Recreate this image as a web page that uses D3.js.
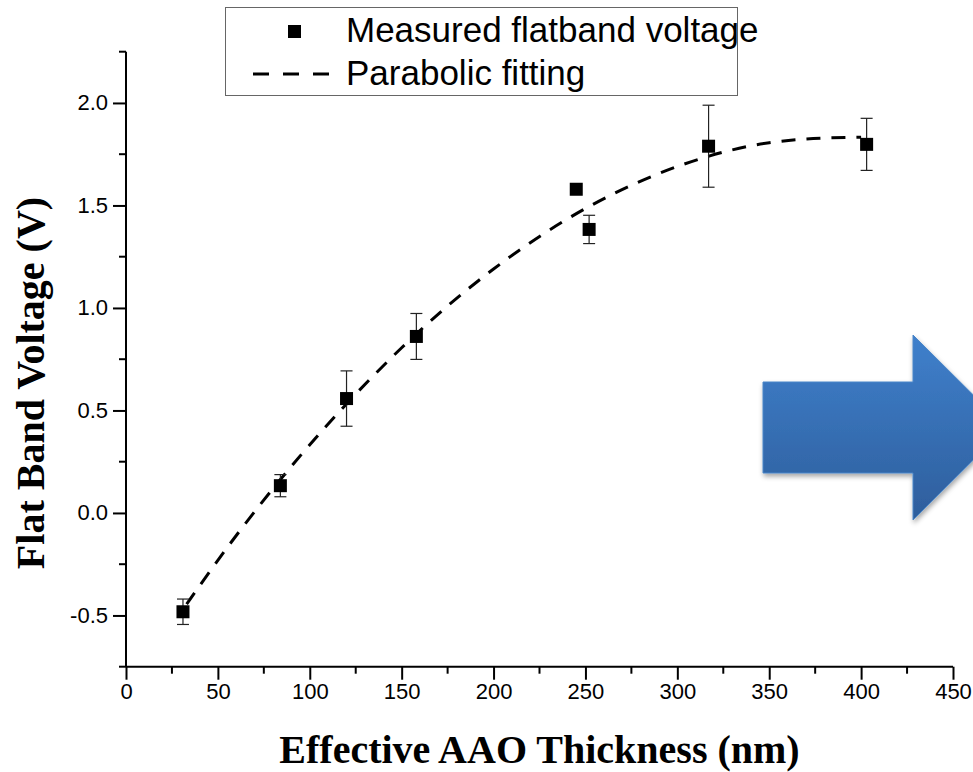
<!DOCTYPE html>
<html>
<head>
<meta charset="utf-8">
<script src="https://cdn.jsdelivr.net/npm/d3@7"></script>
<style>
    body { margin: 0; background: #fff; }
    svg { display: block; }
</style>
</head>
<body>
<div id="chart"></div>
<script>
//Datos
const thickness = [31, 84, 120, 158, 245, 252, 317, 403];
const flatband = [-0.482, 0.133, 0.558, 0.861, 1.579, 1.383, 1.789, 1.798];
const errors = [0.062, 0.054, 0.135, 0.112, 0, 0.069, 0.2, 0.127];

//Ajuste parabólico
const fitX = [33, 60, 100, 150, 200, 250, 300, 350, 400];
const fitY = [-0.445, -0.11, 0.333, 0.806, 1.19, 1.485, 1.69, 1.806, 1.833];

const xTicks = [0, 50, 100, 150, 200, 250, 300, 350, 400, 450];
const yTicks = [-0.5, 0.0, 0.5, 1.0, 1.5, 2.0];

const W = 973, H = 772;
const SANS = 'Arial, "Liberation Sans", sans-serif';
const SERIF = '"Times New Roman", "Liberation Serif", serif';
let margin = {top: 51.7, right: 20, bottom: 105.3, left: 126};

let svg = d3.select('#chart')
    .append('svg')
        .attr('width', W)
        .attr('height', H);

let x = d3.scaleLinear()
    .domain([0, 450])
    .range([margin.left, 953]);

let y = d3.scaleLinear()
    .domain([-0.75, 2.25])
    .range([H - margin.bottom, margin.top]);

//Flecha azul
let defs = svg.append('defs');
let grad = defs.append('linearGradient')
    .attr('id', 'arrowGrad')
    .attr('x1', 0).attr('y1', 0).attr('x2', 0).attr('y2', 1);
grad.append('stop').attr('offset', '0%').attr('stop-color', '#3f80cc');
grad.append('stop').attr('offset', '100%').attr('stop-color', '#2e5e9c');

let shadow = defs.append('filter')
    .attr('id', 'shadow')
    .attr('x', '-20%').attr('y', '-20%').attr('width', '140%').attr('height', '140%');
shadow.append('feDropShadow')
    .attr('dx', 1).attr('dy', 3).attr('stdDeviation', 2.5)
    .attr('flood-color', '#000').attr('flood-opacity', 0.35);

svg.append('path')
    .attr('d', 'M763,382 L913,382 L913,335 L1006,427.5 L913,520 L913,473 L763,473 Z')
    .attr('fill', 'url(#arrowGrad)')
    .attr('stroke', '#4a86c8')
    .attr('stroke-width', 1)
    .attr('filter', 'url(#shadow)');

//Ejes
let xMinor = d3.range(25, 450, 50);
let yMinor = d3.range(-0.75, 2.3, 0.5);

let xAxis = function(g) {
    g.call(d3.axisBottom(x).tickValues(xTicks).tickFormat(d3.format('d')).tickSize(13).tickPadding(4));
    g.attr('font-size', 22).attr('font-family', SANS);
    g.call(function(g){ g.select('.domain').attr('d', 'M' + x(0) + ',0H' + x(450)); });
    g.selectAll('.tick line').attr('stroke-width', 2);
    g.selectAll('.tick text').attr('fill', '#000');
    g.selectAll('.minor')
        .data(xMinor)
        .enter()
        .append('line')
        .attr('class', 'minor')
        .attr('x1', d => x(d)).attr('x2', d => x(d))
        .attr('y1', 0).attr('y2', 7)
        .attr('stroke', '#000').attr('stroke-width', 2);
}

svg.append('g')
    .attr('transform', 'translate(0,' + (H - margin.bottom) + ')')
    .call(xAxis)
    .select('.domain').attr('stroke-width', 2);

let yAxis = function(g) {
    g.call(d3.axisLeft(y).tickValues(yTicks).tickFormat(d3.format('.1f')).tickSize(13).tickPadding(5));
    g.attr('font-size', 22).attr('font-family', SANS);
    g.call(function(g){ g.select('.domain').attr('d', 'M0,' + y(-0.75) + 'V' + y(2.25)); });
    g.selectAll('.tick line').attr('stroke-width', 2);
    g.selectAll('.tick text')
        .text(d => d3.format('.1f')(d).replace('−', '-'))
        .attr('fill', '#000');
    g.selectAll('.minor')
        .data(yMinor)
        .enter()
        .append('line')
        .attr('class', 'minor')
        .attr('y1', d => y(d)).attr('y2', d => y(d))
        .attr('x1', 0).attr('x2', -7)
        .attr('stroke', '#000').attr('stroke-width', 2);
}

svg.append('g')
    .attr('transform', 'translate(' + margin.left + ',0)')
    .call(yAxis)
    .select('.domain').attr('stroke-width', 2);

//Títulos de los ejes
svg.append('text')
    .attr('x', (x(0) + x(450)) / 2)
    .attr('y', 763)
    .attr('text-anchor', 'middle')
    .style('font-family', SERIF)
    .style('font-weight', 'bold')
    .style('font-size', '40px')
    .text('Effective AAO Thickness (nm)');

svg.append('text')
    .attr('transform', 'translate(44,383) rotate(-90)')
    .attr('text-anchor', 'middle')
    .style('font-family', SERIF)
    .style('font-weight', 'bold')
    .style('font-size', '40px')
    .text('Flat Band Voltage (V)');

//Curva de ajuste
let fitData = fitX.map((d, i) => ({x: d, y: fitY[i]}));
svg.append('path')
    .datum(fitData)
    .attr('fill', 'none')
    .attr('stroke', '#000')
    .attr('stroke-width', 3)
    .attr('stroke-dasharray', '14,11')
    .attr('d', d3.line()
        .x(d => x(d.x))
        .y(d => y(d.y))
        .curve(d3.curveNatural)
    );

//Barras de error
let points = thickness.map((d, i) => ({x: d, y: flatband[i], e: errors[i]}));
let eb = svg.selectAll('.err')
    .data(points.filter(d => d.e > 0))
    .enter()
    .append('g')
    .attr('class', 'err')
    .attr('stroke', '#222')
    .attr('stroke-width', 1.2);
eb.append('line')
    .attr('x1', d => x(d.x)).attr('x2', d => x(d.x))
    .attr('y1', d => y(d.y - d.e)).attr('y2', d => y(d.y + d.e));
eb.append('line')
    .attr('x1', d => x(d.x) - 6).attr('x2', d => x(d.x) + 6)
    .attr('y1', d => y(d.y - d.e)).attr('y2', d => y(d.y - d.e));
eb.append('line')
    .attr('x1', d => x(d.x) - 6).attr('x2', d => x(d.x) + 6)
    .attr('y1', d => y(d.y + d.e)).attr('y2', d => y(d.y + d.e));

//Puntos
svg.selectAll('.pt')
    .data(points)
    .enter()
    .append('rect')
    .attr('class', 'pt')
    .attr('x', d => x(d.x) - 6.5)
    .attr('y', d => y(d.y) - 6.5)
    .attr('width', 13)
    .attr('height', 13)
    .attr('fill', '#000');

//Leyenda
let legend = svg.append('g');
legend.append('rect')
    .attr('x', 225.5).attr('y', 7.5)
    .attr('width', 512).attr('height', 88)
    .attr('fill', '#fff')
    .attr('stroke', '#666')
    .attr('stroke-width', 1);
legend.append('rect')
    .attr('x', 288).attr('y', 25)
    .attr('width', 13).attr('height', 13)
    .attr('fill', '#000');
legend.append('line')
    .attr('x1', 253).attr('x2', 330)
    .attr('y1', 74).attr('y2', 74)
    .attr('stroke', '#000')
    .attr('stroke-width', 3)
    .attr('stroke-dasharray', '16,14');
legend.selectAll('.ltxt')
    .data(['Measured flatband voltage', 'Parabolic fitting'])
    .enter()
    .append('text')
    .attr('x', 346)
    .attr('y', (d, i) => 42 + i * 43)
    .style('font-family', SANS)
    .style('font-size', '35px')
    .text(d => d);
</script>
</body>
</html>
